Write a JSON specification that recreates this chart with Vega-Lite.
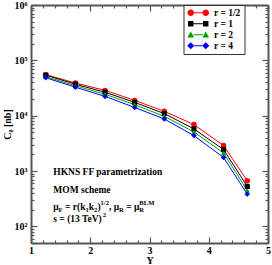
{
  "$schema": "https://vega.github.io/schema/vega-lite/v6.json",
  "width": 237,
  "height": 238,
  "autosize": {"type": "none"},
  "padding": {"left": 31, "top": 5, "right": 4, "bottom": 22},
  "background": "white",
  "config": {
    "view": {"stroke": null},
    "font": "Liberation Serif",
    "legend": {"strokeColor": "#333333", "fillColor": "white", "padding": 3, "symbolStrokeWidth": 0, "strokeWidth": 1},
    "axis": {
      "domainColor": "#555555",
      "domainWidth": 2,
      "tickColor": "#555555",
      "tickWidth": 1.2,
      "grid": false,
      "labelFont": "Liberation Serif",
      "labelFontWeight": "bold",
      "labelFontSize": 10,
      "labelColor": "black",
      "labelFlush": false,
      "labelOverlap": false,
      "titleFont": "Liberation Serif",
      "titleFontWeight": "bold",
      "titleFontSize": 10,
      "titleColor": "black"
    }
  },
  "datasets": {
    "cs": [
      {"Y": 1.25, "C": 55000, "r": "r = 1/2"},
      {"Y": 1.75, "C": 39000, "r": "r = 1/2"},
      {"Y": 2.25, "C": 28600, "r": "r = 1/2"},
      {"Y": 2.75, "C": 18900, "r": "r = 1/2"},
      {"Y": 3.25, "C": 12000, "r": "r = 1/2"},
      {"Y": 3.75, "C": 6900, "r": "r = 1/2"},
      {"Y": 4.25, "C": 2880, "r": "r = 1/2"},
      {"Y": 4.65, "C": 666, "r": "r = 1/2"},
      {"Y": 1.25, "C": 54000, "r": "r = 1"},
      {"Y": 1.75, "C": 37000, "r": "r = 1"},
      {"Y": 2.25, "C": 26500, "r": "r = 1"},
      {"Y": 2.75, "C": 17400, "r": "r = 1"},
      {"Y": 3.25, "C": 10900, "r": "r = 1"},
      {"Y": 3.75, "C": 5760, "r": "r = 1"},
      {"Y": 4.25, "C": 2440, "r": "r = 1"},
      {"Y": 4.65, "C": 526, "r": "r = 1"},
      {"Y": 1.25, "C": 51000, "r": "r = 2"},
      {"Y": 1.75, "C": 34700, "r": "r = 2"},
      {"Y": 2.25, "C": 24400, "r": "r = 2"},
      {"Y": 2.75, "C": 15800, "r": "r = 2"},
      {"Y": 3.25, "C": 9700, "r": "r = 2"},
      {"Y": 3.75, "C": 5080, "r": "r = 2"},
      {"Y": 4.25, "C": 2110, "r": "r = 2"},
      {"Y": 4.65, "C": 446, "r": "r = 2"},
      {"Y": 1.25, "C": 48400, "r": "r = 4"},
      {"Y": 1.75, "C": 32700, "r": "r = 4"},
      {"Y": 2.25, "C": 22300, "r": "r = 4"},
      {"Y": 2.75, "C": 14100, "r": "r = 4"},
      {"Y": 3.25, "C": 8700, "r": "r = 4"},
      {"Y": 3.75, "C": 4360, "r": "r = 4"},
      {"Y": 4.25, "C": 1750, "r": "r = 4"},
      {"Y": 4.65, "C": 382, "r": "r = 4"}
    ],
    "notes": [
      {"t": "HKNS FF parametrization", "Y": 1.3764, "C": 951, "k": "base"},
      {"t": "MOM scheme", "Y": 1.3764, "C": 446, "k": "base"},
      {"t": "μ", "Y": 1.3764, "C": 220, "k": "base"},
      {"t": "F", "Y": 1.4655, "C": 220, "k": "sub"},
      {"t": "= r(k", "Y": 1.5742, "C": 220, "k": "base"},
      {"t": "1", "Y": 1.9193, "C": 220, "k": "sub"},
      {"t": "k", "Y": 1.9755, "C": 220, "k": "base"},
      {"t": "2", "Y": 2.0646, "C": 220, "k": "sub"},
      {"t": ")", "Y": 2.1208, "C": 220, "k": "base"},
      {"t": "1/2", "Y": 2.1742, "C": 220, "k": "sup"},
      {"t": ", μ", "Y": 2.3176, "C": 220, "k": "base"},
      {"t": "R", "Y": 2.4869, "C": 220, "k": "sub"},
      {"t": "= μ", "Y": 2.6081, "C": 220, "k": "base"},
      {"t": "R", "Y": 2.8287, "C": 220, "k": "sub"},
      {"t": "BLM", "Y": 2.8287, "C": 220, "k": "sup"},
      {"t": "s = (13 TeV)", "Y": 1.3764, "C": 134, "k": "base"},
      {"t": "2", "Y": 2.2118, "C": 134, "k": "sup"}
    ]
  },
  "resolve": {"axis": {"x": "independent", "y": "independent"}},
  "layer": [
    {
      "data": {"name": "cs"},
      "mark": {"type": "point", "opacity": 0},
      "encoding": {
        "x": {
          "field": "Y", "type": "quantitative",
          "scale": {"domain": [1, 5], "nice": false, "zero": false},
          "axis": {
            "orient": "bottom",
            "values": [1, 1.2, 1.4, 1.6, 1.8, 2, 2.2, 2.4, 2.6, 2.8, 3, 3.2, 3.4, 3.6, 3.8, 4, 4.2, 4.4, 4.6, 4.8, 5],
            "labelExpr": "abs(datum.value - round(datum.value)) < 0.001 ? toString(round(datum.value)) : ''",
            "tickSize": {"condition": {"test": "abs(datum.value - round(datum.value)) < 0.001", "value": -6}, "value": -3},
            "labelPadding": 8,
            "title": "Y",
            "titlePadding": -3
          }
        },
        "y": {
          "field": "C", "type": "quantitative",
          "scale": {"type": "log", "domain": [50, 1000000], "nice": false},
          "axis": {
            "orient": "left",
            "values": [50, 60, 70, 80, 90, 100, 200, 300, 400, 500, 600, 700, 800, 900, 1000, 2000, 3000, 4000, 5000, 6000, 7000, 8000, 9000, 10000, 20000, 30000, 40000, 50000, 60000, 70000, 80000, 90000, 100000, 200000, 300000, 400000, 500000, 600000, 700000, 800000, 900000, 1000000],
            "labelExpr": "abs(log(datum.value)/LN10 - round(log(datum.value)/LN10)) < 0.001 ? '10' + ['⁰','¹','²','³','⁴','⁵','⁶'][round(log(datum.value)/LN10)] : ''",
            "tickSize": {"condition": {"test": "abs(log(datum.value)/LN10 - round(log(datum.value)/LN10)) < 0.001", "value": -6}, "value": -3},
            "labelPadding": 10,
            "title": "C₀ [nb]",
            "titlePadding": 2
          }
        }
      }
    },
    {
      "data": {"name": "cs"},
      "mark": {"type": "point", "opacity": 0},
      "encoding": {
        "x": {
          "field": "Y", "type": "quantitative",
          "axis": {
            "orient": "top",
            "values": [1, 1.2, 1.4, 1.6, 1.8, 2, 2.2, 2.4, 2.6, 2.8, 3, 3.2, 3.4, 3.6, 3.8, 4, 4.2, 4.4, 4.6, 4.8, 5],
            "labels": false,
            "title": null,
            "tickSize": {"condition": {"test": "abs(datum.value - round(datum.value)) < 0.001", "value": -6}, "value": -3}
          }
        },
        "y": {
          "field": "C", "type": "quantitative",
          "axis": {
            "orient": "right",
            "values": [50, 60, 70, 80, 90, 100, 200, 300, 400, 500, 600, 700, 800, 900, 1000, 2000, 3000, 4000, 5000, 6000, 7000, 8000, 9000, 10000, 20000, 30000, 40000, 50000, 60000, 70000, 80000, 90000, 100000, 200000, 300000, 400000, 500000, 600000, 700000, 800000, 900000, 1000000],
            "labels": false,
            "title": null,
            "tickSize": {"condition": {"test": "abs(log(datum.value)/LN10 - round(log(datum.value)/LN10)) < 0.001", "value": -6}, "value": -3}
          }
        }
      }
    },
    {
      "data": {"name": "cs"},
      "mark": {"type": "point", "filled": true, "opacity": 1, "size": 4, "strokeWidth": 0},
      "encoding": {
        "x": {"field": "Y", "type": "quantitative", "axis": null},
        "y": {"field": "C", "type": "quantitative", "axis": null},
        "color": {
          "field": "r", "type": "nominal",
          "scale": {"domain": ["r = 1/2", "r = 1", "r = 2", "r = 4"], "range": ["#ff0000", "#000000", "#00a000", "#0000ff"]},
          "legend": {
            "title": null,
            "orient": "none",
            "legendX": 152.5,
            "legendY": 0,
            "padding": 3,
            "rowPadding": 0,
            "fillColor": "white",
            "strokeColor": "#333333",
            "symbolSize": 36,
            "symbolStrokeWidth": 0,
            "symbolOpacity": 1,
            "symbolOffset": 7,
            "labelOffset": 11,
            "labelFont": "Liberation Serif",
            "labelFontWeight": "bold",
            "labelFontSize": 9.5,
            "labelColor": "black",
            "symbolType": {"expr": "datum.value == 'r = 1/2' ? 'M-1.4,-0.17H1.4V0.17H-1.4Z M-3.6,0A1.1,1.1,0,1,1,-1.4,0A1.1,1.1,0,1,1,-3.6,0Z M1.4,0A1.1,1.1,0,1,1,3.6,0A1.1,1.1,0,1,1,1.4,0Z' : datum.value == 'r = 1' ? 'M-1.6,-0.17H1.6V0.17H-1.6Z M-3.4,-0.9H-1.6V0.9H-3.4Z M1.6,-0.9H3.4V0.9H1.6Z' : datum.value == 'r = 2' ? 'M-1.6,-0.17H1.6V0.17H-1.6Z M-2.5,-1.1L-1.4,0.9L-3.6,0.9Z M2.5,-1.1L3.6,0.9L1.4,0.9Z' : 'M-1.3,-0.17H1.3V0.17H-1.3Z M-2.5,-1.2L-1.3,0L-2.5,1.2L-3.7,0Z M2.5,-1.2L3.7,0L2.5,1.2L1.3,0Z'"},
            "encode": {"legend": {"update": {"stroke": {"value": "#333333"}, "strokeWidth": {"value": 1}, "fill": {"value": "white"}}}}
          }
        }
      }
    },
    {
      "data": {"name": "cs"},
      "mark": {"type": "line", "strokeWidth": 1},
      "encoding": {
        "x": {"field": "Y", "type": "quantitative", "axis": null},
        "y": {"field": "C", "type": "quantitative", "axis": null},
        "color": {"field": "r", "type": "nominal", "legend": null}
      }
    },
    {
      "data": {"name": "cs"},
      "transform": [{"filter": "datum.r == 'r = 1/2'"}],
      "mark": {"type": "point", "shape": "circle", "filled": true, "opacity": 1, "size": 30},
      "encoding": {
        "x": {"field": "Y", "type": "quantitative", "axis": null},
        "y": {"field": "C", "type": "quantitative", "axis": null},
        "color": {"field": "r", "type": "nominal", "legend": null}
      }
    },
    {
      "data": {"name": "cs"},
      "transform": [{"filter": "datum.r == 'r = 1'"}],
      "mark": {"type": "point", "shape": "square", "filled": true, "opacity": 1, "size": 26},
      "encoding": {
        "x": {"field": "Y", "type": "quantitative", "axis": null},
        "y": {"field": "C", "type": "quantitative", "axis": null},
        "color": {"field": "r", "type": "nominal", "legend": null}
      }
    },
    {
      "data": {"name": "cs"},
      "transform": [{"filter": "datum.r == 'r = 2'"}],
      "mark": {"type": "point", "shape": "triangle-up", "filled": true, "opacity": 1, "size": 30},
      "encoding": {
        "x": {"field": "Y", "type": "quantitative", "axis": null},
        "y": {"field": "C", "type": "quantitative", "axis": null},
        "color": {"field": "r", "type": "nominal", "legend": null}
      }
    },
    {
      "data": {"name": "cs"},
      "transform": [{"filter": "datum.r == 'r = 4'"}],
      "mark": {"type": "point", "shape": "diamond", "filled": true, "opacity": 1, "size": 30},
      "encoding": {
        "x": {"field": "Y", "type": "quantitative", "axis": null},
        "y": {"field": "C", "type": "quantitative", "axis": null},
        "color": {"field": "r", "type": "nominal", "legend": null}
      }
    },
    {
      "data": {"name": "notes"},
      "transform": [{"filter": "datum.k == 'base'"}],
      "mark": {"type": "text", "align": "left", "baseline": "middle", "font": "Liberation Serif", "fontWeight": "bold", "fontSize": 9.5, "color": "black"},
      "encoding": {
        "x": {"field": "Y", "type": "quantitative", "axis": null},
        "y": {"field": "C", "type": "quantitative", "axis": null},
        "text": {"field": "t"}
      }
    },
    {
      "data": {"name": "notes"},
      "transform": [{"filter": "datum.k == 'sub'"}],
      "mark": {"type": "text", "align": "left", "baseline": "middle", "dy": 3, "font": "Liberation Serif", "fontWeight": "bold", "fontSize": 6.6, "color": "black"},
      "encoding": {
        "x": {"field": "Y", "type": "quantitative", "axis": null},
        "y": {"field": "C", "type": "quantitative", "axis": null},
        "text": {"field": "t"}
      }
    },
    {
      "data": {"name": "notes"},
      "transform": [{"filter": "datum.k == 'sup'"}],
      "mark": {"type": "text", "align": "left", "baseline": "middle", "dy": -4, "font": "Liberation Serif", "fontWeight": "bold", "fontSize": 6.6, "color": "black"},
      "encoding": {
        "x": {"field": "Y", "type": "quantitative", "axis": null},
        "y": {"field": "C", "type": "quantitative", "axis": null},
        "text": {"field": "t"}
      }
    }
  ]
}
